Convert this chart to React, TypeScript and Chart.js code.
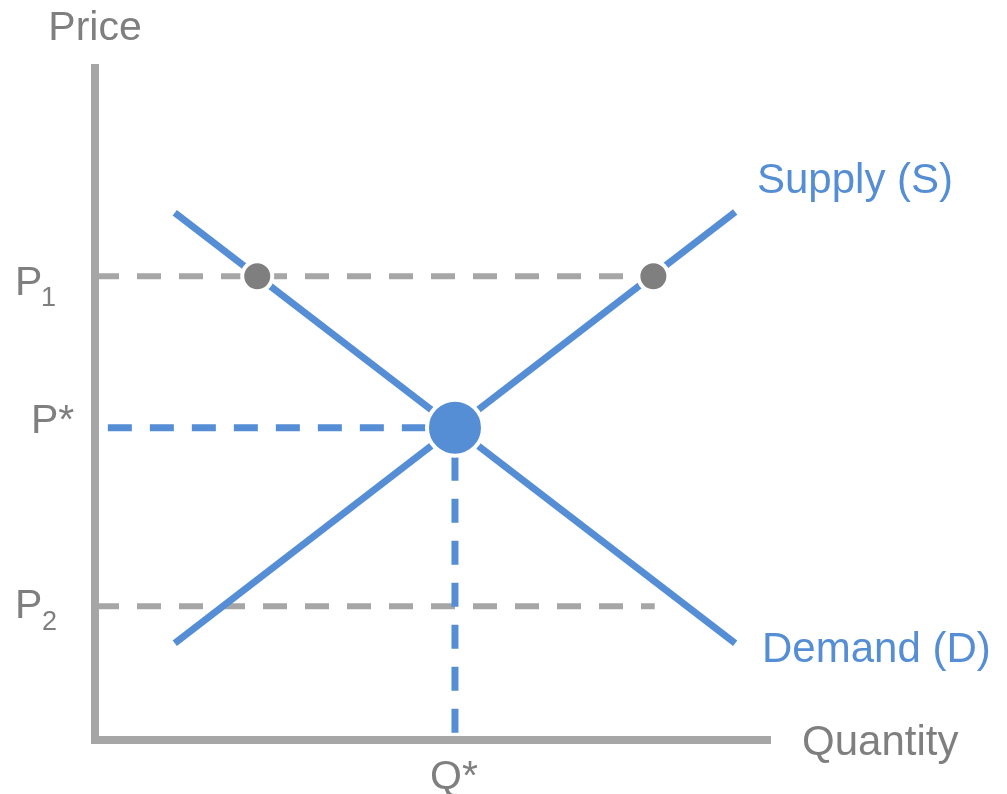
import React, { useEffect, useRef } from "react";
import { Chart, registerables } from "chart.js";

Chart.register(...registerables);

// ---- data (axis units 0..10) ----
const supplyQ = [1.18, 9.47];
const supplyP = [1.43, 7.81];
const demandQ = [1.18, 9.47];
const demandP = [7.8, 1.43];
const eqQ = 5.325;
const eqP = 4.62;
const p1 = 6.86;
const p2 = 1.98;
const p1DotsQ = [2.4, 8.26];
const p1LineEndQ = 8.26;
const p2LineEndQ = 8.28;
const pStarLineStartQ = 0.19;
const axisMax = 10;

const BLUE = "#558ed5";
const GREY_LINE = "#a6a6a6";
const GREY_DOT = "#7f7f7f";
const GREY_TEXT = "#7f7f7f";
const FONT = '"Liberation Sans", Arial, sans-serif';

const labelsPlugin = {
  id: "econLabels",
  afterDatasetsDraw(chart: any) {
    const ctx = chart.ctx as CanvasRenderingContext2D;
    const xs = chart.scales.x;
    const ys = chart.scales.y;
    ctx.save();
    ctx.textBaseline = "alphabetic";
    const big = `42px ${FONT}`;
    const mid = `41px ${FONT}`;
    const sub = `27px ${FONT}`;

    // Price
    ctx.fillStyle = GREY_TEXT;
    ctx.font = mid;
    ctx.textAlign = "center";
    ctx.fillText("Price", xs.getPixelForValue(0), 40);

    // Quantity
    ctx.textAlign = "left";
    ctx.font = big;
    ctx.fillText("Quantity", 802, ys.getPixelForValue(0) + 15);

    // P1
    const yP1 = ys.getPixelForValue(p1);
    ctx.font = mid;
    ctx.fillText("P", 15, yP1 + 19);
    ctx.font = sub;
    ctx.fillText("1", 41, yP1 + 30);

    // P*
    const yPs = ys.getPixelForValue(eqP);
    ctx.font = mid;
    ctx.fillText("P*", 31, yPs + 5);

    // P2
    const yP2 = ys.getPixelForValue(p2);
    ctx.font = mid;
    ctx.fillText("P", 15, yP2 + 12);
    ctx.font = sub;
    ctx.fillText("2", 42, yP2 + 24);

    // Q*
    ctx.font = mid;
    ctx.textAlign = "center";
    ctx.fillText("Q*", xs.getPixelForValue(eqQ) - 1, 789);

    // Curve labels
    ctx.fillStyle = BLUE;
    ctx.textAlign = "left";
    ctx.font = big;
    ctx.fillText("Supply (S)", 757, 193);
    ctx.fillText("Demand (D)", 762, 662);
    ctx.restore();
  },
};

export default function App() {
  const ref = useRef<HTMLCanvasElement>(null);

  useEffect(() => {
    if (!ref.current) return;
    const line = (
      data: { x: number; y: number }[],
      color: string,
      width: number,
      dash: number[] = [],
      extra: any = {}
    ) => ({
      data,
      showLine: true,
      borderColor: color,
      borderWidth: width,
      borderDash: dash,
      pointRadius: 0,
      fill: false,
      clip: false,
      ...extra,
    });

    const chart = new Chart(ref.current, {
      type: "scatter",
      data: {
        datasets: [
          // dots (drawn on top – first dataset drawn last)
          {
            data: [{ x: eqQ, y: eqP }],
            pointRadius: 28,
            pointBorderWidth: 4,
            pointBorderColor: "#ffffff",
            pointBackgroundColor: BLUE,
            clip: false,
          } as any,
          {
            data: p1DotsQ.map((q) => ({ x: q, y: p1 })),
            pointRadius: 15,
            pointBorderWidth: 4,
            pointBorderColor: "#ffffff",
            pointBackgroundColor: GREY_DOT,
            clip: false,
          } as any,
          // supply & demand
          line(supplyQ.map((q, i) => ({ x: q, y: supplyP[i] })), BLUE, 7),
          line(demandQ.map((q, i) => ({ x: q, y: demandP[i] })), BLUE, 7),
          // dashed guides
          line(
            [
              { x: pStarLineStartQ, y: eqP },
              { x: eqQ, y: eqP },
            ],
            BLUE,
            7,
            [24, 18]
          ),
          line(
            [
              { x: eqQ, y: eqP },
              { x: eqQ, y: 0 },
            ],
            BLUE,
            7,
            [24, 18],
            { borderDashOffset: 13 }
          ),
          line(
            [
              { x: 0, y: p1 },
              { x: p1LineEndQ, y: p1 },
            ],
            GREY_LINE,
            6,
            [24, 18]
          ),
          line(
            [
              { x: 0, y: p2 },
              { x: p2LineEndQ, y: p2 },
            ],
            GREY_LINE,
            6,
            [24, 18]
          ),
          // axes
          line(
            [
              { x: 0, y: axisMax },
              { x: 0, y: 0 },
              { x: axisMax, y: 0 },
            ],
            GREY_LINE,
            8,
            [],
            { borderJoinStyle: "miter" }
          ),
        ] as any,
      },
      options: {
        animation: false,
        responsive: false,
        events: [],
        layout: { padding: { left: 95, right: 236, top: 64, bottom: 54 } },
        scales: {
          x: { type: "linear", min: 0, max: axisMax, display: false },
          y: { type: "linear", min: 0, max: axisMax, display: false },
        },
        plugins: {
          legend: { display: false },
          tooltip: { enabled: false },
        },
      },
      plugins: [labelsPlugin],
    });
    return () => chart.destroy();
  }, []);

  return (
    <div style={{ position: "absolute", left: 0, top: 0, width: 1007, height: 794, background: "#fff" }}>
      <canvas ref={ref} width={1007} height={794} style={{ width: 1007, height: 794 }} />
    </div>
  );
}
